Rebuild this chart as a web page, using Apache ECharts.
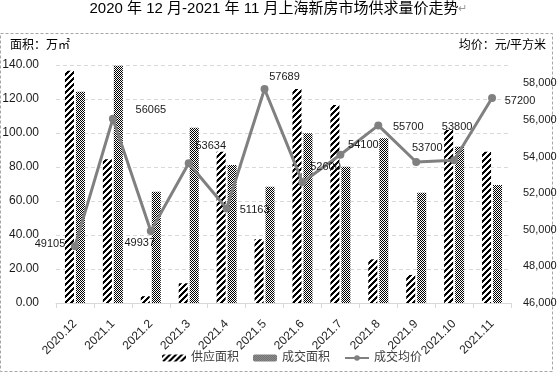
<!DOCTYPE html>
<html>
<head>
<meta charset="utf-8">
<script src="https://cdn.jsdelivr.net/npm/echarts@6/dist/echarts.min.js"></script>
<style>
html,body{margin:0;padding:0;background:#fff;}
#chart{width:557px;height:374px;}
</style>
</head>
<body>
<div id="chart"></div>
<script>
// ---- data ----
const categories = ['2020.12','2021.1','2021.2','2021.3','2021.4','2021.5','2021.6','2021.7','2021.8','2021.9','2021.10','2021.11'];
const supplyArea = [136.6, 84.5, 4.0, 11.6, 89.0, 37.5, 125.9, 116.5, 25.7, 16.5, 101.8, 89.0];
const dealArea = [124.3, 139.6, 65.5, 103.1, 81.2, 68.4, 99.8, 80.2, 96.9, 64.9, 91.9, 69.4];
const avgPrice = [49105, 56065, 49937, 53634, 51163, 57689, 52600, 54100, 55700, 53700, 53800, 57200];
const seriesNames = ['供应面积', '成交面积', '成交均价'];
const titleText = '2020 年 12 月-2021 年 11 月上海新房市场供求量价走势';
const leftUnit = '面积：万㎡';
const rightUnit = '均价：元/平方米';

// ---- patterns ----
function makeHatch() {
  const c = document.createElement('canvas');
  const n = 6;
  c.width = n; c.height = n;
  const ctx = c.getContext('2d');
  ctx.fillStyle = '#fff'; ctx.fillRect(0,0,n,n);
  ctx.fillStyle = '#000';
  for (let x = 0; x < n; x++) for (let y = 0; y < n; y++) {
    if ((x + y) % n < 3) ctx.fillRect(x, y, 1, 1);
  }
  return c;
}
function makeChecker() {
  const c = document.createElement('canvas');
  c.width = 2; c.height = 2;
  const ctx = c.getContext('2d');
  ctx.fillStyle = '#fff'; ctx.fillRect(0,0,2,2);
  ctx.fillStyle = '#000';
  ctx.fillRect(0,0,1,1); ctx.fillRect(1,1,1,1);
  return c;
}
const hatchFill = { image: makeHatch(), repeat: 'repeat' };
const checkerFill = { image: makeChecker(), repeat: 'repeat' };

// label placement for price labels (relative to point), kept apart from data
const priceLabelOffsets = [[-25,-2],[38,-9],[-11,12],[22,-17],[28,1],[20,-12],[23,-15],[23,-10],[30,2],[11,-14],[3,-33],[28,3]];

const FONT = "'Liberation Sans', 'Noto Sans CJK SC', sans-serif";
const chart = echarts.init(document.getElementById('chart'), null, { renderer: 'canvas' });

const option = {
  backgroundColor: '#fff',
  animation: false,
  textStyle: { fontFamily: FONT },
  title: {
    text: titleText + '{m|↵}',
    left: 'center',
    top: 1,
    padding: 0,
    textStyle: {
      fontSize: 15, fontWeight: 'normal', color: '#000', fontFamily: FONT,
      rich: { m: { fontSize: 11, color: '#999' } }
    }
  },
  graphic: [
    { type: 'rect', shape: { x: 0.5, y: 33.5, width: 552, height: 338 },
      style: { fill: 'none', stroke: '#a6a6a6', lineWidth: 1, lineDash: [3, 2] }, silent: true, z: 0 },
    { type: 'text', left: 10, top: 40, style: { text: leftUnit, font: '12px ' + FONT, fill: '#000' } },
    { type: 'text', right: 11, top: 40, style: { text: rightUnit, font: '12px ' + FONT, fill: '#000' } }
  ],
  legend: {
    left: 162,
    top: 352,
    padding: 0,
    itemGap: 14,
    itemWidth: 24,
    itemHeight: 7,
    textStyle: { fontSize: 12, color: '#404040', fontFamily: FONT },
    data: [
      { name: seriesNames[0] },
      { name: seriesNames[1] },
      { name: seriesNames[2], itemStyle: { color: '#808080' } }
    ]
  },
  grid: { left: 56, right: 46, top: 65, bottom: 71, containLabel: false, outerBoundsMode: 'none' },
  xAxis: {
    type: 'category',
    data: categories,
    axisLine: { lineStyle: { color: '#d9d9d9' } },
    axisTick: { show: true, length: 5, lineStyle: { color: '#d9d9d9' } },
    axisLabel: { rotate: 45, fontSize: 12, color: '#262626', margin: 19, fontFamily: FONT }
  },
  yAxis: [
    {
      type: 'value', min: 0, max: 140, interval: 20,
      axisLine: { show: false }, axisTick: { show: false },
      axisLabel: { fontSize: 12, color: '#1a1a1a', margin: 17, fontFamily: FONT,
        formatter: v => v.toFixed(2) },
      splitLine: { lineStyle: { color: '#d9d9d9', type: [4, 3] } }
    },
    {
      type: 'value', min: 46000, max: 59000, interval: 2000,
      axisLine: { show: false }, axisTick: { show: false },
      axisLabel: { fontSize: 11, color: '#1a1a1a', margin: 12, showMaxLabel: false, fontFamily: FONT },
      splitLine: { show: false }
    }
  ],
  series: [
    {
      name: seriesNames[0], type: 'bar', yAxisIndex: 0,
      data: supplyArea, barWidth: 9, barGap: '22%',
      itemStyle: { color: hatchFill }
    },
    {
      name: seriesNames[1], type: 'bar', yAxisIndex: 0,
      data: dealArea, barWidth: 9, barGap: '22%',
      itemStyle: { color: checkerFill }
    },
    {
      name: seriesNames[2], type: 'line', yAxisIndex: 1, z: 5,
      data: avgPrice.map((v, i) => ({ value: v, label: { offset: priceLabelOffsets[i] } })),
      symbol: 'circle', symbolSize: 8,
      lineStyle: { color: '#808080', width: 3 },
      itemStyle: { color: '#808080' },
      label: { show: true, position: 'inside', fontSize: 11, color: '#1a1a1a', fontFamily: FONT }
    }
  ]
};
chart.setOption(option);
</script>
</body>
</html>
